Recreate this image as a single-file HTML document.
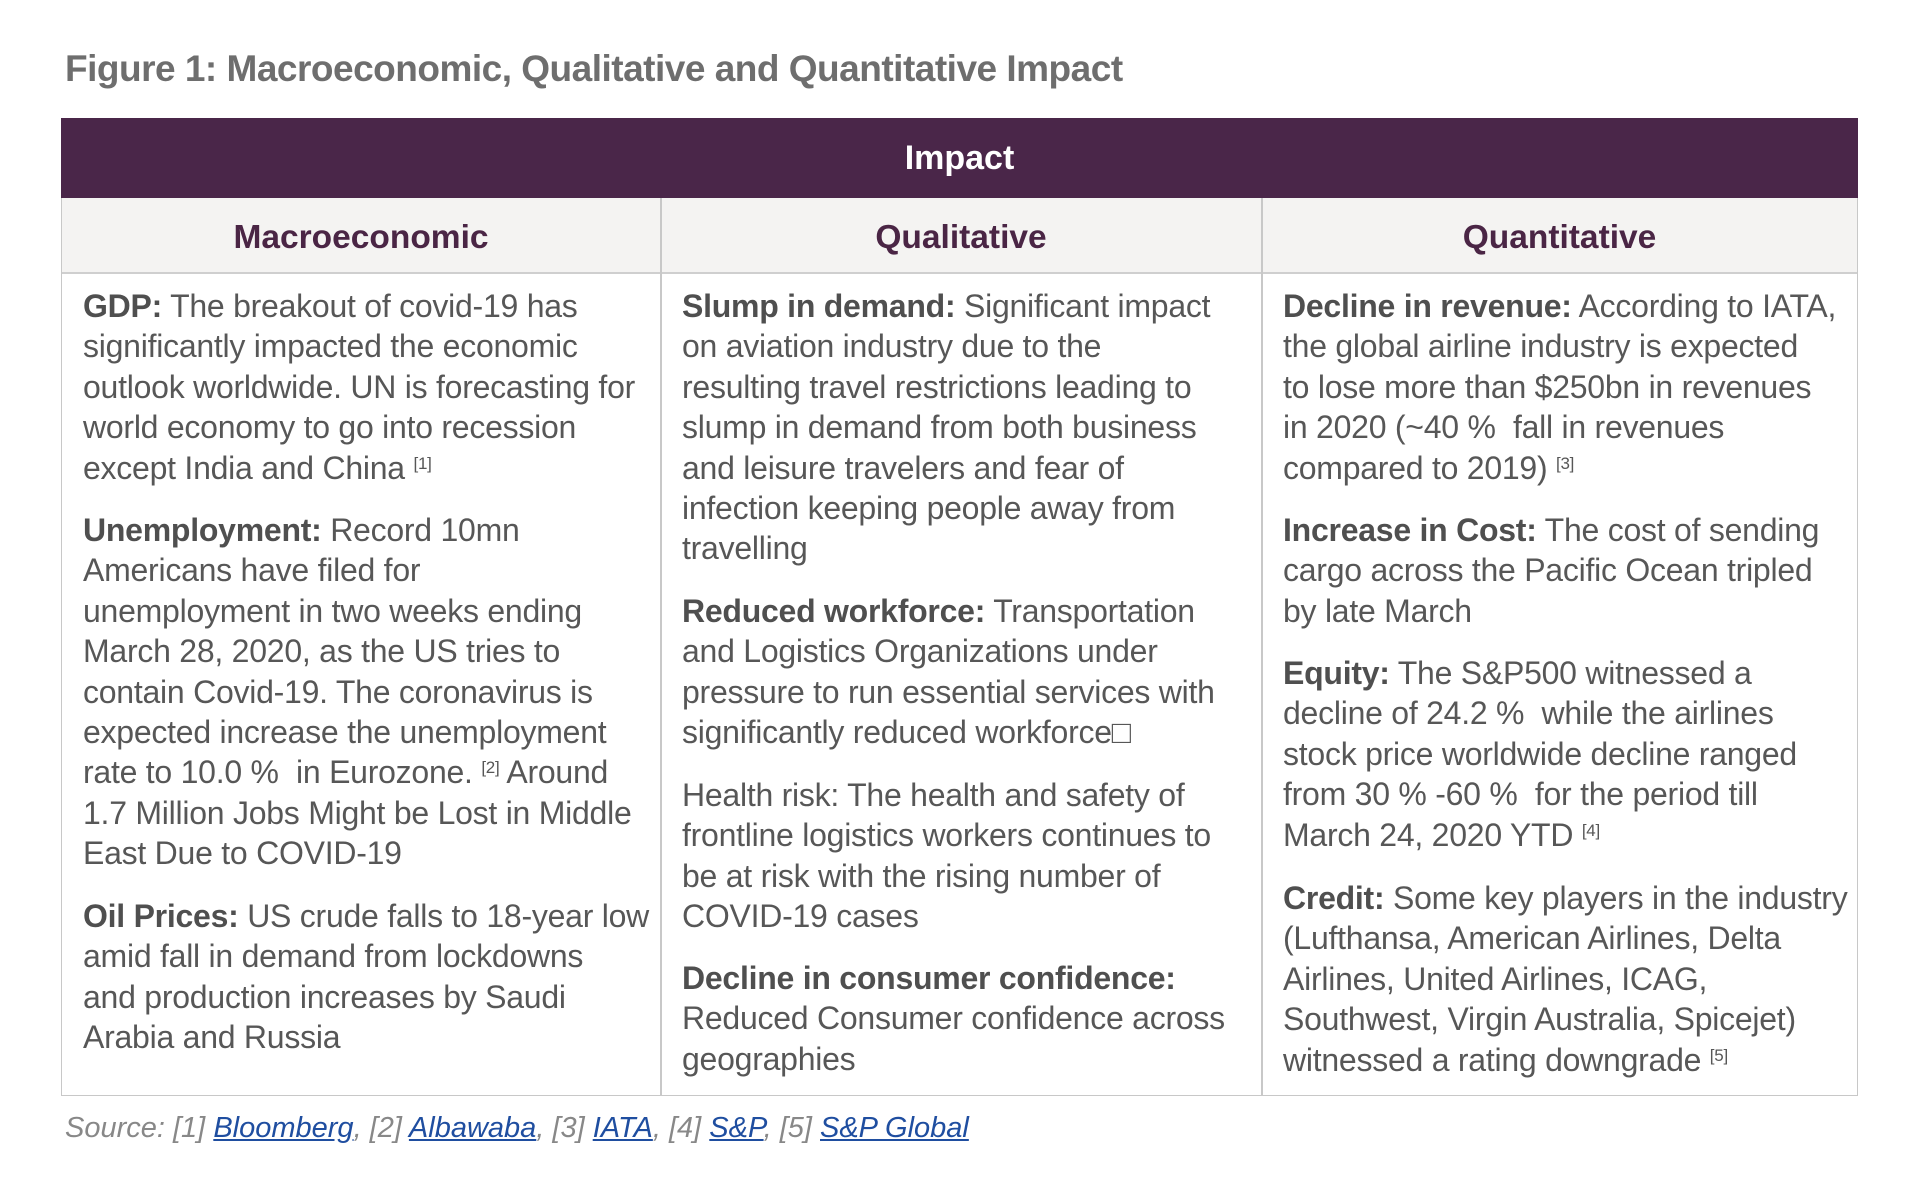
<!DOCTYPE html>
<html><head><meta charset="utf-8"><style>
body{margin:0;width:1920px;height:1200px;background:#fff;position:relative;font-family:"Liberation Sans",sans-serif;overflow:hidden}
.t{position:absolute;left:65px;top:48px;font-size:37px;font-weight:bold;color:#6e6e6e;letter-spacing:-0.5px;white-space:nowrap}
.hdr{position:absolute;left:61px;top:118px;width:1797px;height:80px;background:#4a2649;color:#fff;font-size:34px;font-weight:bold;text-align:center;line-height:80px}
.sub{position:absolute;top:198px;height:76px;background:#f4f3f2;color:#4a2545;font-size:33.5px;font-weight:bold;text-align:center;line-height:80px;border-bottom:2px solid #cfcfcf;box-sizing:border-box}
.box{position:absolute;left:61px;top:198px;width:1797px;height:898px;border:1.5px solid #c8c8c8;border-top:none;box-sizing:border-box}
.vl{position:absolute;top:198px;width:1.5px;height:898px;background:#c8c8c8}
.p{position:absolute;font-size:32px;line-height:40.4px;color:#575757;white-space:nowrap;letter-spacing:-0.25px}
.p b{color:#4f4f4f}
sup{font-size:17px;vertical-align:10px;line-height:0}
.src{position:absolute;left:65px;top:1112px;font-size:29px;font-style:italic;color:#888;white-space:nowrap}
.src a{color:#1f4ea0;text-decoration:underline}
</style></head><body>
<div class="t">Figure 1: Macroeconomic, Qualitative and Quantitative Impact</div>
<div class="hdr">Impact</div>
<div class="sub" style="left:61px;width:600px">Macroeconomic</div>
<div class="sub" style="left:661px;width:600px">Qualitative</div>
<div class="sub" style="left:1261px;width:597px">Quantitative</div>
<div class="box"></div>
<div class="vl" style="left:660px"></div>
<div class="vl" style="left:1261px"></div>

<div class="p" style="left:83px;top:286px"><b>GDP:</b> The breakout of covid-19 has<br>significantly impacted the economic<br>outlook worldwide. UN is forecasting for<br>world economy to go into recession<br>except India and China <sup>[1]</sup></div>
<div class="p" style="left:83px;top:510px"><b>Unemployment:</b> Record 10mn<br>Americans have filed for<br>unemployment in two weeks ending<br>March 28, 2020, as the US tries to<br>contain Covid-19. The coronavirus is<br>expected increase the unemployment<br>rate to 10.0 %&nbsp; in Eurozone. <sup>[2]</sup> Around<br>1.7 Million Jobs Might be Lost in Middle<br>East Due to COVID-19</div>
<div class="p" style="left:83px;top:896px"><b>Oil Prices:</b> US crude falls to 18-year low<br>amid fall in demand from lockdowns<br>and production increases by Saudi<br>Arabia and Russia</div>

<div class="p" style="left:682px;top:286px"><b>Slump in demand:</b> Significant impact<br>on aviation industry due to the<br>resulting travel restrictions leading to<br>slump in demand from both business<br>and leisure travelers and fear of<br>infection keeping people away from<br>travelling</div>
<div class="p" style="left:682px;top:591px"><b>Reduced workforce:</b> Transportation<br>and Logistics Organizations under<br>pressure to run essential services with<br>significantly reduced workforce&#9633;</div>
<div class="p" style="left:682px;top:775px">Health risk: The health and safety of<br>frontline logistics workers continues to<br>be at risk with the rising number of<br>COVID-19 cases</div>
<div class="p" style="left:682px;top:958px"><b>Decline in consumer confidence:</b><br>Reduced Consumer confidence across<br>geographies</div>

<div class="p" style="left:1283px;top:286px"><b>Decline in revenue:</b> According to IATA,<br>the global airline industry is expected<br>to lose more than $250bn in revenues<br>in 2020 (~40 %&nbsp; fall in revenues<br>compared to 2019) <sup>[3]</sup></div>
<div class="p" style="left:1283px;top:510px"><b>Increase in Cost:</b> The cost of sending<br>cargo across the Pacific Ocean tripled<br>by late March</div>
<div class="p" style="left:1283px;top:653px"><b>Equity:</b> The S&amp;P500 witnessed a<br>decline of 24.2 %&nbsp; while the airlines<br>stock price worldwide decline ranged<br>from 30 % -60 %&nbsp; for the period till<br>March 24, 2020 YTD <sup>[4]</sup></div>
<div class="p" style="left:1283px;top:878px"><b>Credit:</b> Some key players in the industry<br>(Lufthansa, American Airlines, Delta<br>Airlines, United Airlines, ICAG,<br>Southwest, Virgin Australia, Spicejet)<br>witnessed a rating downgrade <sup>[5]</sup></div>

<div class="src">Source: [1] <a>Bloomberg</a>, [2] <a>Albawaba</a>, [3] <a>IATA</a>, [4] <a>S&amp;P</a>, [5] <a>S&amp;P Global</a></div>
</body></html>
